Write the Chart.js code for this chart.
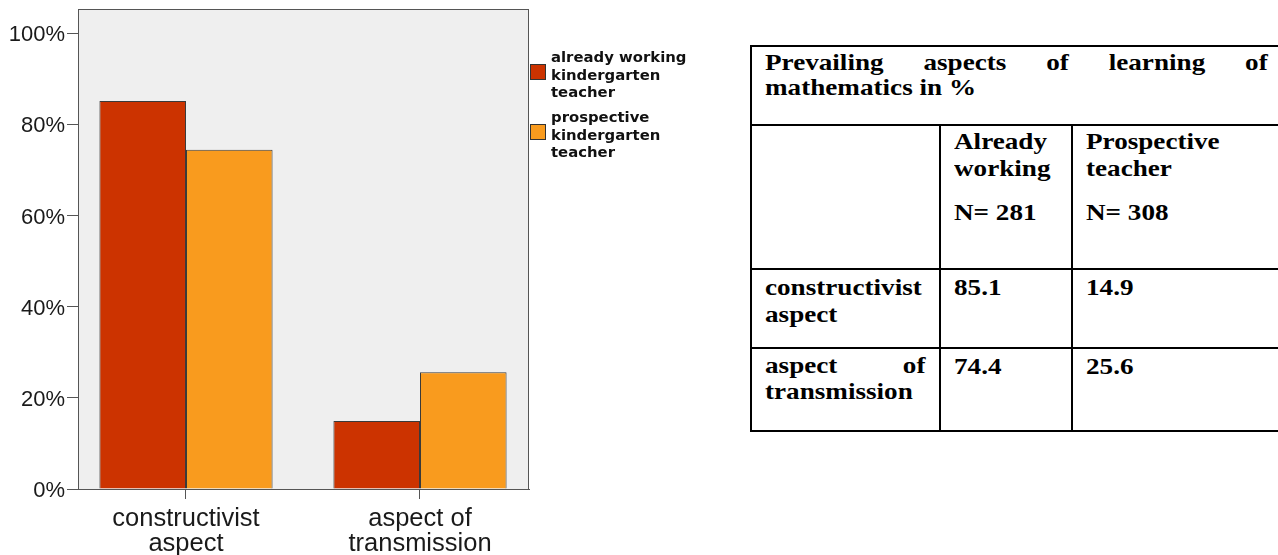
<!DOCTYPE html>
<html>
<head>
<meta charset="utf-8">
<script src="https://cdn.jsdelivr.net/npm/chart.js@4.4.1/dist/chart.umd.min.js"></script>
<style>
  html, body { margin: 0; padding: 0; background: #fff; }
  body { width: 1278px; height: 555px; overflow: hidden; position: relative; }
  #chartBox { position: absolute; left: 0; top: 0; width: 720px; height: 555px; }
  .hl { position: absolute; background: #000; height: 2px; }
  .vl { position: absolute; background: #000; width: 2px; }
  .t {
    position: absolute;
    font-family: "Liberation Serif", "Times New Roman", serif;
    font-weight: bold;
    font-size: 23px;
    line-height: 27px;
    color: #000;
    transform: scaleX(1.18);
    transform-origin: 0 0;
    white-space: nowrap;
  }
  .just { white-space: normal; text-align: justify; }
</style>
</head>
<body>
<div id="chartBox"><canvas id="c" width="720" height="555"></canvas></div>
<div id="table"></div>

<script>
// ---- data ----
const categories = [['constructivist', 'aspect'], ['aspect of', 'transmission']];
const seriesNames = [
  ['already working', 'kindergarten', 'teacher'],
  ['prospective', 'kindergarten', 'teacher']
];
const alreadyWorking = [85.1, 14.9];
const prospective = [74.4, 25.6];
const yTicks = [0, 20, 40, 60, 80, 100];

// table text
const tableTitle = 'Prevailing aspects of learning of mathematics in %';
const tableHeads = [['Already', 'working'], ['Prospective', 'teacher']];
const tableN = ['N= 281', 'N= 308'];
const tableRowNames = ['constructivist aspect', 'aspect of transmission'];
const tableValues = [alreadyWorking, prospective];

// ---- chart ----
Chart.defaults.font.family = '"Liberation Sans", Arial, sans-serif';

const plotFrame = {
  id: 'plotFrame',
  beforeDraw(chart) {
    const { ctx, chartArea: a } = chart;
    ctx.save();
    ctx.fillStyle = '#efefef';
    ctx.fillRect(a.left, a.top, a.right - a.left, a.bottom - a.top);
    ctx.restore();
  },
  afterDatasetsDraw(chart) {
    const { ctx, chartArea: a } = chart;
    ctx.save();
    ctx.strokeStyle = '#555';
    ctx.lineWidth = 1;
    ctx.strokeRect(Math.round(a.left) + 0.5, Math.round(a.top) + 0.5,
                   Math.round(a.right - a.left) - 1, Math.round(a.bottom - a.top));
    ctx.restore();
  }
};

// legend at the right of the plot, with wrapped three-line labels
const sideLegend = {
  id: 'sideLegend',
  afterDraw(chart) {
    const { ctx, chartArea: a } = chart;
    const x0 = a.right + 1;
    ctx.save();
    chart.data.datasets.forEach((ds, i) => {
      const base = a.top + 53 + i * 60;
      ctx.fillStyle = ds.backgroundColor;
      ctx.fillRect(x0, base + 2, 16, 16);
      ctx.strokeStyle = '#333';
      ctx.lineWidth = 1;
      ctx.strokeRect(x0 + 0.5, base + 2.5, 15, 15);
      ctx.fillStyle = '#111';
      ctx.font = 'bold 13.5px "DejaVu Sans", Verdana, sans-serif';
      ctx.textBaseline = 'alphabetic';
      seriesNames[i].forEach((line, k) => {
        ctx.save();
        ctx.translate(x0 + 21, base + k * 17.7);
        ctx.scale(1.1, 1);
        ctx.fillText(line, 0, 0);
        ctx.restore();
      });
    });
    ctx.restore();
  }
};

const noPad = (s) => { s.paddingLeft = 0; s.paddingRight = 0; s.paddingTop = 0; s.paddingBottom = 0; };

new Chart(document.getElementById('c'), {
  type: 'bar',
  data: {
    datasets: [
      {
        label: seriesNames[0].join(' '),
        data: alreadyWorking.map((v, i) => ({ x: i, y: v })),
        backgroundColor: '#CC3300'
      },
      {
        label: seriesNames[1].join(' '),
        data: prospective.map((v, i) => ({ x: i, y: v })),
        backgroundColor: '#F99B1E'
      }
    ]
  },
  options: {
    responsive: false,
    animation: false,
    devicePixelRatio: 1,
    layout: { autoPadding: false, padding: { left: 0, top: 9, right: 191, bottom: 0 } },
    plugins: { legend: { display: false }, tooltip: { enabled: false } },
    datasets: {
      bar: {
        categoryPercentage: 0.74,
        barPercentage: 1,
        borderWidth: 1,
        borderColor: '#3a3a3a'
      }
    },
    scales: {
      x: {
        type: 'linear',
        offset: false,
        min: -0.4615,
        max: 1.4658,
        afterBuildTicks: (s) => { s.ticks = categories.map((_, i) => ({ value: i })); },
        afterFit: (s) => { s.height = 66; noPad(s); },
        ticks: {
          callback: (v) => categories[v],
          autoSkip: false,
          maxRotation: 0,
          padding: 7,
          color: '#1a1a1a',
          font: { size: 25.5, lineHeight: 1.0 }
        },
        grid: { offset: false, drawOnChartArea: false, tickLength: 10, color: '#555' },
        border: { color: '#555' }
      },
      y: {
        min: 0,
        max: 105.3,
        afterBuildTicks: (s) => { s.ticks = yTicks.map((v) => ({ value: v })); },
        afterFit: (s) => { s.width = 78; noPad(s); },
        ticks: {
          callback: (v) => v + '%',
          padding: 2,
          labelOffset: 2,
          color: '#1a1a1a',
          font: { size: 22 }
        },
        grid: { drawOnChartArea: false, tickLength: 11, color: '#555' },
        border: { color: '#555' }
      }
    }
  },
  plugins: [plotFrame, sideLegend]
});

// ---- table ----
const tbl = document.getElementById('table');
function line(cls, x, y, len) {
  const d = document.createElement('div');
  d.className = cls;
  d.style.left = x + 'px';
  d.style.top = y + 'px';
  if (cls === 'hl') d.style.width = len + 'px'; else d.style.height = len + 'px';
  tbl.appendChild(d);
}
function text(str, x, y, opts = {}) {
  const d = document.createElement('div');
  d.className = 't' + (opts.justify ? ' just' : '');
  d.style.left = x + 'px';
  d.style.top = y + 'px';
  if (opts.width) d.style.width = opts.width + 'px';
  if (opts.lh) d.style.lineHeight = opts.lh + 'px';
  d.innerHTML = str;
  tbl.appendChild(d);
}
const rowY = [45, 124, 268, 347, 430];
const colX = [750, 939, 1071];
rowY.forEach((y) => line('hl', 750, y, 540));
line('vl', colX[0], 45, 387);
line('vl', colX[1], 124, 308);
line('vl', colX[2], 124, 308);

const sx = 1.18;
text(tableTitle, 765, 50, { justify: true, width: Math.round((1268 - 765) / sx), lh: 25 });
text(tableHeads[0].join('<br>'), 954, 128);
text(tableHeads[1].join('<br>'), 1086, 128);
text(tableN[0], 954, 199);
text(tableN[1], 1086, 199);
text(tableRowNames[0].replace(' ', '<br>'), 765, 274);
text(tableRowNames[1], 765, 353, { justify: true, width: Math.round((926 - 765) / sx), lh: 26 });
tableValues.forEach((vals, r) => {
  const top = r === 0 ? 274 : 353;
  text(vals[0].toFixed(1), 954, top);
  text(vals[1].toFixed(1), 1086, top);
});
</script>
</body>
</html>
